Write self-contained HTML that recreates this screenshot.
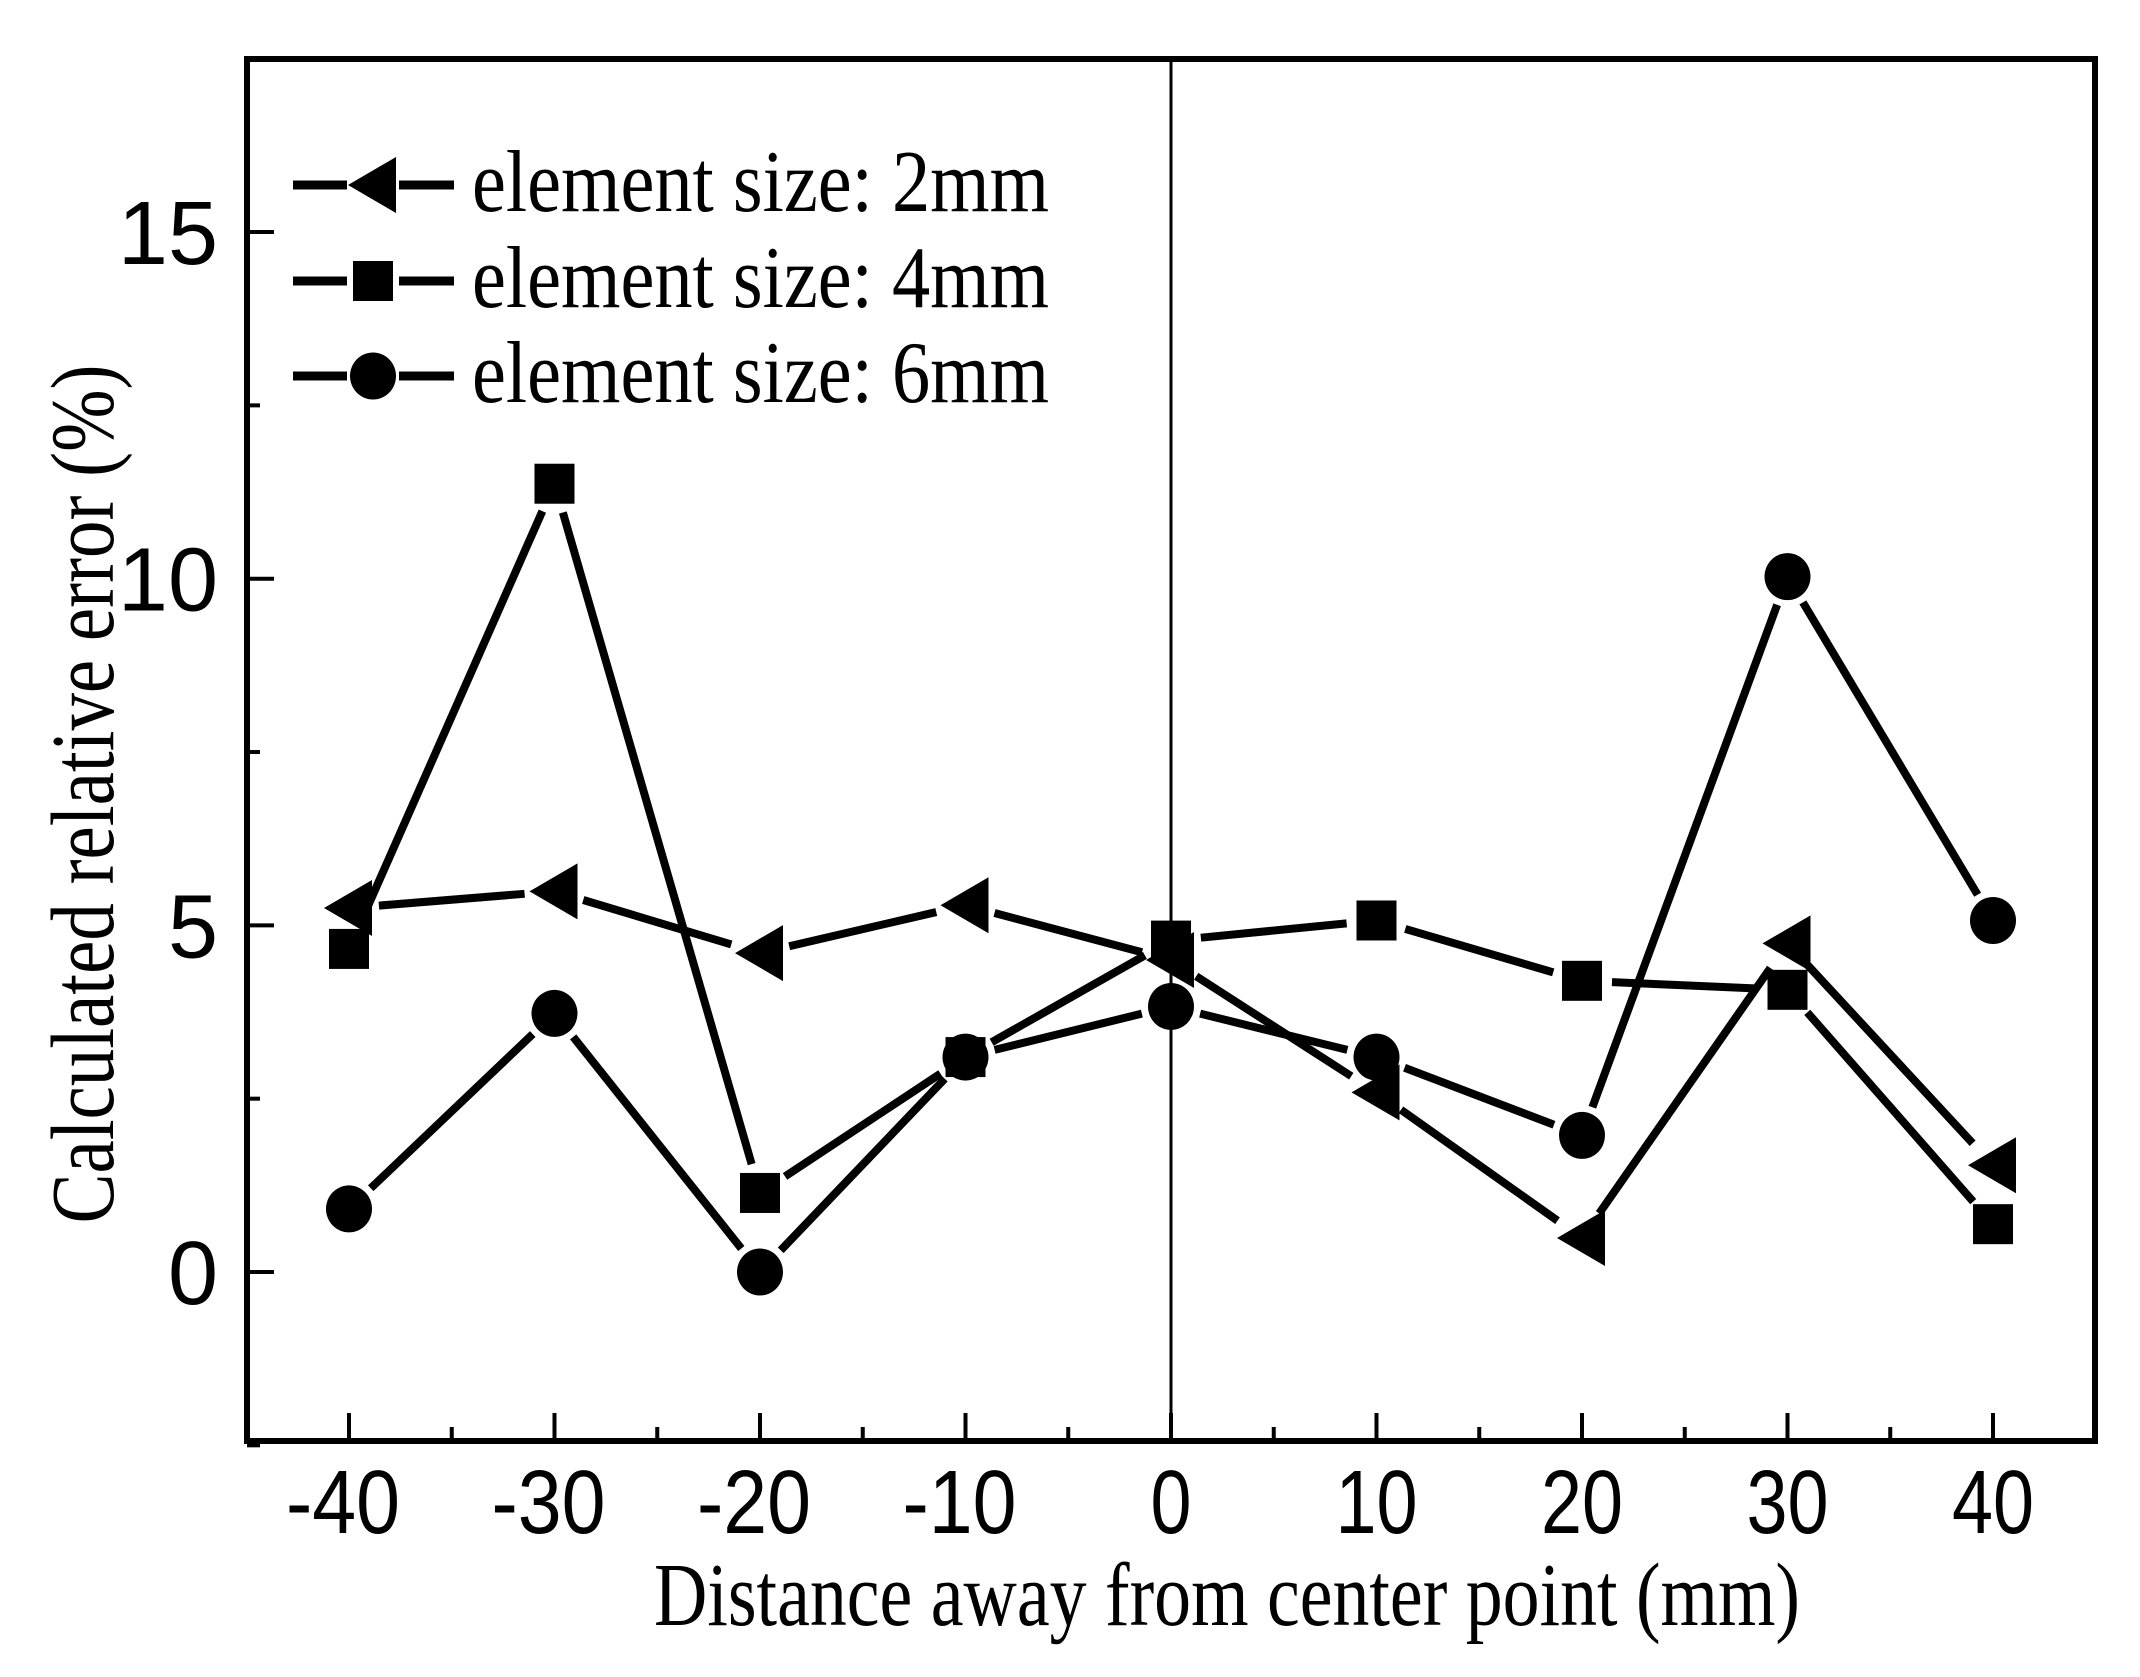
<!DOCTYPE html>
<html><head><meta charset="utf-8"><style>html,body{margin:0;padding:0;background:#fff}svg{display:block}</style></head>
<body>
<svg id="s" width="2140" height="1677" viewBox="0 0 2140 1677" xmlns="http://www.w3.org/2000/svg">
<rect width="2140" height="1677" fill="#fff"/>
<g id="ticks" stroke="#000" stroke-width="4"></g>
<line x1="1171" y1="59" x2="1171" y2="1441" stroke="#000" stroke-width="3"/>
<g id="data"></g>
<rect x="247" y="59" width="1848" height="1382" fill="none" stroke="#000" stroke-width="6"/>
<g font-family="Liberation Sans, Arial, sans-serif" font-size="90" fill="#000" id="lab"></g>
<g font-family="Liberation Serif, Times New Roman, serif" fill="#000">
<text x="654" y="1625" font-size="90" textLength="1146" lengthAdjust="spacingAndGlyphs">Distance away from center point (mm)</text>
<text transform="translate(113,794) rotate(-90)" text-anchor="middle" font-size="90" textLength="859" lengthAdjust="spacingAndGlyphs">Calculated relative error (%)</text>
<text x="472" y="211" font-size="88" textLength="577" lengthAdjust="spacingAndGlyphs">element size: 2mm</text>
<text x="472" y="307" font-size="88" textLength="577" lengthAdjust="spacingAndGlyphs">element size: 4mm</text>
<text x="472" y="402" font-size="88" textLength="577" lengthAdjust="spacingAndGlyphs">element size: 6mm</text>
</g>
<g id="leg"></g>
</svg>
<script>
var NS="http://www.w3.org/2000/svg";
function X(v){return 349+20.55*(v+40);}
function Y(v){return 1272-69.33*v;}
function el(p,t,a){var e=document.createElementNS(NS,t);for(var k in a)e.setAttribute(k,a[k]);p.appendChild(e);return e;}
var tk=document.getElementById('ticks'),lab=document.getElementById('lab');
for(var v=-40;v<=40;v+=5){var maj=v%10==0;el(tk,'line',{x1:X(v),x2:X(v),y1:1441,y2:1441-(maj?28:14)});}
for(var v=-2.5;v<=17.5;v+=2.5){var maj=Math.abs(v%5)<1e-6;el(tk,'line',{x1:247,x2:247+(maj?27:13),y1:Y(v),y2:Y(v)});}
for(var v=-40;v<=40;v+=10){var s=String(v);var w=v<0?114:(v==0?41:82);var t=el(lab,'text',{x:X(v)-(v<0?6:0),y:1533,'text-anchor':'middle',textLength:w,lengthAdjust:'spacingAndGlyphs'});t.textContent=s;}
[0,5,10,15].forEach(function(v){var t=el(lab,'text',{x:218,y:Y(v)+32,'text-anchor':'end'});t.textContent=v;});
var xs=[-40,-30,-20,-10,0,10,20,30,40];
var S=[
 {m:'tri',d:[5.25,5.49,4.6,5.29,4.5,2.59,0.49,4.74,1.54]},
 {m:'sq',d:[4.66,11.37,1.14,3.1,4.78,5.07,4.2,4.07,0.69]},
 {m:'ci',d:[0.91,3.73,0,3.1,3.83,3.1,1.97,10.03,5.07]}];
var g=document.getElementById('data');
function marker(p,m,x,y){
 if(m=='tri')el(p,'polygon',{points:(x-25)+','+y+' '+(x+23)+','+(y-28)+' '+(x+23)+','+(y+28),fill:'#000'});
 else if(m=='sq')el(p,'rect',{x:x-20,y:y-20,width:40,height:40,fill:'#000'});
 else el(p,'ellipse',{cx:x,cy:y,rx:23,ry:23.5,fill:'#000'});
}
S.forEach(function(s){
 for(var i=0;i<8;i++){var x1=X(xs[i]),y1=Y(s.d[i]),x2=X(xs[i+1]),y2=Y(s.d[i+1]);
  var dx=x2-x1,dy=y2-y1,L=Math.sqrt(dx*dx+dy*dy),g0=30;if(L<2*g0+2)continue;
  el(g,'line',{x1:x1+dx*g0/L,y1:y1+dy*g0/L,x2:x2-dx*g0/L,y2:y2-dy*g0/L,stroke:'#000','stroke-width':8});}
});
S.forEach(function(s){for(var i=0;i<9;i++)marker(g,s.m,X(xs[i]),Y(s.d[i]));});
var lg=document.getElementById('leg');
[[185,'tri'],[281,'sq'],[376,'ci']].forEach(function(r){
 el(lg,'line',{x1:293,y1:r[0],x2:347,y2:r[0],stroke:'#000','stroke-width':9});
 el(lg,'line',{x1:399,y1:r[0],x2:454,y2:r[0],stroke:'#000','stroke-width':9});
 marker(lg,r[1],373,r[0]);
});
</script>
</body></html>
